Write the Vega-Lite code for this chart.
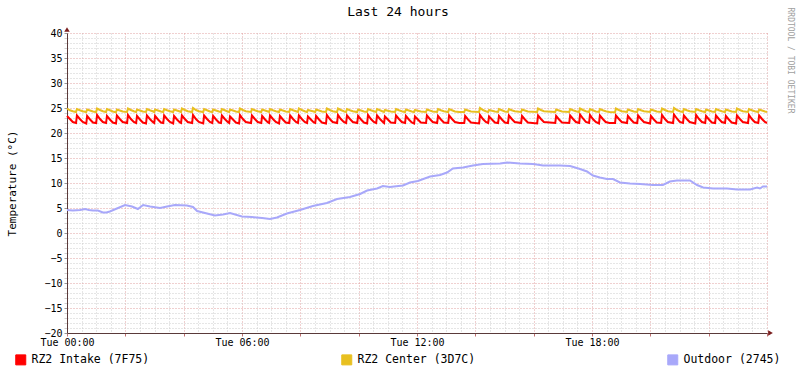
{
"$schema": "https://vega.github.io/schema/vega-lite/v6.json",
"width": 700, "height": 300,
"autosize": {"type": "none"},
"padding": {"left": 67, "top": 33, "right": 30, "bottom": 40},
"background": "white",
"config": {"view": {"stroke": null}, "font": "DejaVu Sans Mono"},
"title": {"text": "Last 24 hours", "font": "DejaVu Sans Mono", "fontSize": 13, "fontWeight": "normal", "color": "black", "anchor": "middle", "dx": -19, "offset": -12},
"encoding": {
  "x": {"field": "t", "type": "quantitative", "scale": {"domain": [0, 24], "nice": false, "zero": false},
    "axis": {"title": "", "orient": "bottom",
      "values": [0,0.5,1,1.5,2,2.5,3,3.5,4,4.5,5,5.5,6,6.5,7,7.5,8,8.5,9,9.5,10,10.5,11,11.5,12,12.5,13,13.5,14,14.5,15,15.5,16,16.5,17,17.5,18,18.5,19,19.5,20,20.5,21,21.5,22,22.5,23,23.5,24],
      "labelExpr": "(datum.value % 6 === 0 && datum.value < 24) ? 'Tue ' + (datum.value < 10 ? '0' : '') + datum.value + ':00' : ''",
      "labelFont": "DejaVu Sans Mono", "labelFontSize": 10, "labelColor": "black", "labelFlush": false, "labelOverlap": false, "labelBound": false, "labelPadding": 1,
      "grid": true, "gridDash": [1, 2],
      "gridColor": {"condition": {"test": "datum.value % 2 === 0", "value": "#e0a0a0"}, "value": "#cccccc"},
      "tickSize": 3,
      "tickColor": {"condition": {"test": "datum.value % 2 === 0", "value": "#c07070"}, "value": "transparent"},
      "domainColor": "#5a3a3a", "domainWidth": 1}},
  "color": {"field": "s", "type": "nominal",
    "scale": {"domain": ["i", "c", "o"], "range": ["#ff0000", "#e8c020", "#a8a8fa"]},
    "legend": {"orient": "none", "legendX": -52, "legendY": 321, "direction": "horizontal", "columns": 3, "gridAlign": "all", "columnPadding": 189,
      "title": null, "symbolType": "square", "symbolSize": 100, "symbolStrokeColor": "black", "symbolStrokeWidth": 1, "symbolOpacity": 1,
      "labelFont": "DejaVu Sans Mono", "labelFontSize": 11.5, "labelColor": "black", "labelOffset": 5,
      "labelExpr": "datum.value === 'i' ? 'RZ2 Intake (7F75)' : datum.value === 'c' ? 'RZ2 Center (3D7C)' : 'Outdoor (2745)'",
      "encode": {"symbols": {"update": {"fill": {"scale": "color", "field": "value"}, "stroke": {"value": "black"}}}}}}
},
"layer": [
  {
    "data": {"values": [
{"t":0,"i":23.4,"c":24.9},{"t":0.1,"i":22.8,"c":24.55},{"t":0.2,"i":22.2,"c":24.35},
{"t":0.31,"i":22.0,"c":24.2},{"t":0.34,"i":23.5,"c":24.8},{"t":0.44,"i":22.8,"c":24.55},{"t":0.54,"i":22.2,"c":24.35},
{"t":0.66,"i":21.9,"c":24.2},{"t":0.69,"i":23.4,"c":24.7},{"t":0.79,"i":22.7,"c":24.5},{"t":0.89,"i":22.1,"c":24.3},
{"t":1.0,"i":22.0,"c":24.2},{"t":1.03,"i":23.6,"c":24.9},{"t":1.13,"i":22.8,"c":24.6},{"t":1.23,"i":22.2,"c":24.35},
{"t":1.34,"i":22.0,"c":24.2},{"t":1.37,"i":23.4,"c":24.8},{"t":1.47,"i":22.7,"c":24.55},{"t":1.57,"i":22.1,"c":24.3},
{"t":1.68,"i":21.9,"c":24.15},{"t":1.71,"i":23.5,"c":24.7},{"t":1.81,"i":22.8,"c":24.5},{"t":1.91,"i":22.2,"c":24.3},
{"t":2.06,"i":22.0,"c":24.2},{"t":2.09,"i":23.6,"c":24.9},{"t":2.19,"i":22.8,"c":24.6},{"t":2.29,"i":22.2,"c":24.35},
{"t":2.37,"i":22.0,"c":24.2},{"t":2.4,"i":23.4,"c":24.7},{"t":2.5,"i":22.7,"c":24.5},{"t":2.6,"i":22.1,"c":24.3},
{"t":2.71,"i":21.9,"c":24.2},{"t":2.74,"i":23.5,"c":24.8},{"t":2.84,"i":22.8,"c":24.55},{"t":2.94,"i":22.2,"c":24.35},
{"t":2.99,"i":22.0,"c":24.2},{"t":3.02,"i":23.4,"c":24.7},{"t":3.12,"i":22.7,"c":24.5},{"t":3.22,"i":22.1,"c":24.3},
{"t":3.3,"i":22.0,"c":24.2},{"t":3.33,"i":23.5,"c":24.8},{"t":3.43,"i":22.8,"c":24.55},{"t":3.53,"i":22.2,"c":24.35},
{"t":3.64,"i":21.9,"c":24.2},{"t":3.67,"i":23.4,"c":24.7},{"t":3.77,"i":22.7,"c":24.5},{"t":3.87,"i":22.1,"c":24.3},
{"t":3.91,"i":22.0,"c":24.2},{"t":3.94,"i":23.5,"c":24.9},{"t":4.04,"i":22.8,"c":24.6},{"t":4.14,"i":22.2,"c":24.35},
{"t":4.29,"i":22.0,"c":24.2},{"t":4.32,"i":23.6,"c":25.0},{"t":4.42,"i":22.8,"c":24.6},{"t":4.52,"i":22.2,"c":24.35},
{"t":4.67,"i":21.9,"c":24.2},{"t":4.7,"i":23.5,"c":24.8},{"t":4.8,"i":22.8,"c":24.55},{"t":4.9,"i":22.2,"c":24.3},
{"t":4.98,"i":22.0,"c":24.2},{"t":5.01,"i":23.4,"c":24.7},{"t":5.11,"i":22.7,"c":24.5},{"t":5.21,"i":22.1,"c":24.3},
{"t":5.28,"i":22.0,"c":24.2},{"t":5.31,"i":23.5,"c":24.8},{"t":5.41,"i":22.8,"c":24.55},{"t":5.51,"i":22.2,"c":24.3},
{"t":5.56,"i":22.0,"c":24.2},{"t":5.59,"i":23.3,"c":24.7},{"t":5.69,"i":22.7,"c":24.5},{"t":5.79,"i":22.1,"c":24.3},
{"t":5.9,"i":21.9,"c":24.2},{"t":5.93,"i":23.6,"c":24.9},{"t":6.03,"i":22.8,"c":24.6},{"t":6.13,"i":22.2,"c":24.35},
{"t":6.31,"i":22.0,"c":24.2},{"t":6.34,"i":23.5,"c":24.8},{"t":6.44,"i":22.8,"c":24.55},{"t":6.54,"i":22.2,"c":24.35},
{"t":6.66,"i":22.0,"c":24.2},{"t":6.69,"i":23.4,"c":24.7},{"t":6.79,"i":22.7,"c":24.5},{"t":6.89,"i":22.1,"c":24.3},
{"t":6.93,"i":22.0,"c":24.2},{"t":6.96,"i":23.5,"c":24.8},{"t":7.06,"i":22.8,"c":24.55},{"t":7.16,"i":22.2,"c":24.35},
{"t":7.27,"i":21.9,"c":24.2},{"t":7.3,"i":23.4,"c":24.7},{"t":7.4,"i":22.7,"c":24.5},{"t":7.5,"i":22.1,"c":24.3},
{"t":7.62,"i":22.0,"c":24.2},{"t":7.65,"i":23.5,"c":24.8},{"t":7.75,"i":22.8,"c":24.55},{"t":7.85,"i":22.2,"c":24.35},
{"t":7.92,"i":22.0,"c":24.2},{"t":7.95,"i":23.5,"c":24.9},{"t":8.05,"i":22.8,"c":24.6},{"t":8.15,"i":22.2,"c":24.35},
{"t":8.23,"i":22.0,"c":24.2},{"t":8.26,"i":23.3,"c":24.6},{"t":8.36,"i":22.7,"c":24.45},{"t":8.46,"i":22.1,"c":24.3},
{"t":8.51,"i":22.0,"c":24.2},{"t":8.54,"i":23.4,"c":24.7},{"t":8.64,"i":22.7,"c":24.5},{"t":8.74,"i":22.1,"c":24.3},
{"t":8.88,"i":21.9,"c":24.2},{"t":8.91,"i":23.6,"c":24.9},{"t":9.01,"i":22.8,"c":24.6},{"t":9.11,"i":22.2,"c":24.35},
{"t":9.26,"i":22.0,"c":24.2},{"t":9.29,"i":23.6,"c":24.9},{"t":9.39,"i":22.8,"c":24.6},{"t":9.49,"i":22.2,"c":24.35},
{"t":9.57,"i":22.0,"c":24.2},{"t":9.6,"i":23.5,"c":24.8},{"t":9.7,"i":22.8,"c":24.55},{"t":9.8,"i":22.2,"c":24.35},
{"t":9.95,"i":22.0,"c":24.2},{"t":9.98,"i":23.4,"c":24.7},{"t":10.08,"i":22.7,"c":24.5},{"t":10.18,"i":22.1,"c":24.3},
{"t":10.29,"i":21.9,"c":24.2},{"t":10.32,"i":23.6,"c":24.8},{"t":10.42,"i":22.8,"c":24.55},{"t":10.52,"i":22.2,"c":24.35},
{"t":10.6,"i":22.0,"c":24.2},{"t":10.63,"i":23.5,"c":24.8},{"t":10.73,"i":22.8,"c":24.55},{"t":10.83,"i":22.2,"c":24.3},
{"t":10.87,"i":22.0,"c":24.2},{"t":10.9,"i":23.3,"c":24.6},{"t":11.0,"i":22.7,"c":24.45},{"t":11.1,"i":22.1,"c":24.3},
{"t":11.25,"i":22.0,"c":24.2},{"t":11.28,"i":23.5,"c":24.8},{"t":11.38,"i":22.8,"c":24.55},{"t":11.48,"i":22.2,"c":24.35},
{"t":11.59,"i":22.0,"c":24.2},{"t":11.62,"i":23.4,"c":24.7},{"t":11.72,"i":22.7,"c":24.5},{"t":11.82,"i":22.1,"c":24.3},
{"t":11.9,"i":21.9,"c":24.2},{"t":11.93,"i":23.3,"c":24.6},{"t":12.03,"i":22.7,"c":24.45},{"t":12.13,"i":22.1,"c":24.3},
{"t":12.31,"i":22.0,"c":24.2},{"t":12.34,"i":23.5,"c":24.7},{"t":12.44,"i":22.8,"c":24.5},{"t":12.54,"i":22.2,"c":24.3},
{"t":12.69,"i":22.0,"c":24.2},{"t":12.72,"i":23.4,"c":24.8},{"t":12.82,"i":22.7,"c":24.55},{"t":12.92,"i":22.1,"c":24.35},
{"t":13.07,"i":22.0,"c":24.2},{"t":13.1,"i":23.5,"c":24.8},{"t":13.2,"i":22.8,"c":24.55},{"t":13.3,"i":22.2,"c":24.3},{"t":13.45,"i":22.0,"c":24.2},
{"t":13.62,"i":22.0,"c":24.2},{"t":13.65,"i":23.4,"c":24.7},{"t":13.75,"i":22.7,"c":24.5},{"t":13.85,"i":22.1,"c":24.3},
{"t":14.13,"i":21.9,"c":24.2},{"t":14.16,"i":23.6,"c":25.0},{"t":14.26,"i":22.8,"c":24.6},{"t":14.36,"i":22.2,"c":24.35},
{"t":14.44,"i":22.0,"c":24.2},{"t":14.47,"i":23.3,"c":24.6},{"t":14.57,"i":22.7,"c":24.45},{"t":14.67,"i":22.1,"c":24.3},
{"t":14.78,"i":22.0,"c":24.2},{"t":14.81,"i":23.4,"c":24.8},{"t":14.91,"i":22.7,"c":24.55},{"t":15.01,"i":22.1,"c":24.3},
{"t":15.12,"i":22.0,"c":24.2},{"t":15.15,"i":23.5,"c":24.8},{"t":15.25,"i":22.8,"c":24.55},{"t":15.35,"i":22.2,"c":24.35},
{"t":15.57,"i":22.0,"c":24.2},{"t":15.6,"i":23.4,"c":24.7},{"t":15.7,"i":22.7,"c":24.5},{"t":15.8,"i":22.1,"c":24.3},
{"t":16.12,"i":21.9,"c":24.2},{"t":16.15,"i":23.5,"c":24.9},{"t":16.25,"i":22.8,"c":24.6},{"t":16.35,"i":22.2,"c":24.35},
{"t":16.74,"i":22.0,"c":24.2},{"t":16.77,"i":23.4,"c":24.7},{"t":16.87,"i":22.7,"c":24.5},{"t":16.97,"i":22.1,"c":24.3},
{"t":17.22,"i":22.0,"c":24.2},{"t":17.25,"i":23.5,"c":24.8},{"t":17.35,"i":22.8,"c":24.55},{"t":17.45,"i":22.2,"c":24.35},
{"t":17.56,"i":22.0,"c":24.2},{"t":17.59,"i":23.7,"c":24.9},{"t":17.69,"i":22.9,"c":24.6},{"t":17.79,"i":22.2,"c":24.35},
{"t":17.9,"i":22.0,"c":24.2},{"t":17.93,"i":23.6,"c":24.8},{"t":18.03,"i":22.8,"c":24.55},{"t":18.13,"i":22.2,"c":24.3},
{"t":18.24,"i":21.9,"c":24.2},{"t":18.27,"i":23.5,"c":24.8},{"t":18.37,"i":22.8,"c":24.55},{"t":18.47,"i":22.2,"c":24.35},{"t":18.6,"i":22.0,"c":24.2},
{"t":18.79,"i":22.0,"c":24.15},{"t":18.82,"i":23.5,"c":24.9},{"t":18.92,"i":22.8,"c":24.6},{"t":19.02,"i":22.2,"c":24.35},
{"t":19.2,"i":22.0,"c":24.2},{"t":19.23,"i":23.4,"c":24.7},{"t":19.33,"i":22.7,"c":24.5},{"t":19.43,"i":22.1,"c":24.3},
{"t":19.55,"i":22.0,"c":24.2},{"t":19.58,"i":23.5,"c":24.8},{"t":19.68,"i":22.8,"c":24.55},{"t":19.78,"i":22.2,"c":24.35},
{"t":19.99,"i":21.9,"c":24.2},{"t":20.02,"i":23.4,"c":24.7},{"t":20.12,"i":22.7,"c":24.5},{"t":20.22,"i":22.1,"c":24.3},
{"t":20.37,"i":22.0,"c":24.2},{"t":20.4,"i":23.6,"c":24.9},{"t":20.5,"i":22.8,"c":24.6},{"t":20.6,"i":22.2,"c":24.35},
{"t":20.78,"i":22.0,"c":24.2},{"t":20.81,"i":23.7,"c":25.0},{"t":20.91,"i":22.9,"c":24.6},{"t":21.01,"i":22.2,"c":24.35},
{"t":21.12,"i":22.0,"c":24.2},{"t":21.15,"i":23.5,"c":24.8},{"t":21.25,"i":22.8,"c":24.55},{"t":21.35,"i":22.2,"c":24.35},
{"t":21.54,"i":21.9,"c":24.2},{"t":21.57,"i":23.6,"c":24.8},{"t":21.67,"i":22.8,"c":24.55},{"t":21.77,"i":22.2,"c":24.35},
{"t":21.88,"i":22.0,"c":24.2},{"t":21.91,"i":23.4,"c":24.7},{"t":22.01,"i":22.7,"c":24.5},{"t":22.11,"i":22.1,"c":24.3},
{"t":22.22,"i":22.0,"c":24.2},{"t":22.25,"i":23.5,"c":24.8},{"t":22.35,"i":22.8,"c":24.55},{"t":22.45,"i":22.2,"c":24.35},
{"t":22.56,"i":22.0,"c":24.2},{"t":22.59,"i":23.4,"c":24.7},{"t":22.69,"i":22.7,"c":24.5},{"t":22.79,"i":22.1,"c":24.3},
{"t":22.94,"i":21.9,"c":24.2},{"t":22.97,"i":23.5,"c":24.9},{"t":23.07,"i":22.8,"c":24.6},{"t":23.17,"i":22.2,"c":24.35},
{"t":23.35,"i":22.0,"c":24.2},{"t":23.38,"i":23.6,"c":24.8},{"t":23.48,"i":22.8,"c":24.55},{"t":23.58,"i":22.2,"c":24.35},
{"t":23.7,"i":22.0,"c":24.2},{"t":23.73,"i":23.5,"c":24.7},{"t":23.83,"i":22.8,"c":24.5},{"t":23.93,"i":22.2,"c":24.3},
{"t":24.0,"i":22.0,"c":24.2}
    ]},
    "transform": [{"fold": ["i", "c"], "as": ["s", "v"]}],
    "mark": {"type": "line", "strokeWidth": 2, "interpolate": "linear"},
    "encoding": {
      "y": {"field": "v", "type": "quantitative", "scale": {"domain": [-20, 40], "nice": false, "zero": false},
        "axis": {
          "values": [-20,-19,-18,-17,-16,-15,-14,-13,-12,-11,-10,-9,-8,-7,-6,-5,-4,-3,-2,-1,0,1,2,3,4,5,6,7,8,9,10,11,12,13,14,15,16,17,18,19,20,21,22,23,24,25,26,27,28,29,30,31,32,33,34,35,36,37,38,39,40],
          "labelExpr": "datum.value % 5 === 0 ? datum.label : ''",
          "labelFont": "DejaVu Sans Mono", "labelFontSize": 10, "labelColor": "black", "labelFlush": false, "labelOverlap": false, "labelBound": false, "labelPadding": 2,
          "grid": true, "gridDash": [1, 2],
          "gridColor": {"condition": {"test": "datum.value % 5 === 0", "value": "#e0a0a0"}, "value": "#cccccc"},
          "tickSize": 3,
          "tickColor": {"condition": {"test": "datum.value % 5 === 0", "value": "#999999"}, "value": "#d0d0d0"},
          "domainColor": "#5a3a3a", "domainWidth": 1,
          "title": "Temperature (°C)", "titleFont": "DejaVu Sans Mono", "titleFontSize": 11, "titleFontWeight": "normal", "titleColor": "black", "titlePadding": 26}}
    }
  },
  {
    "data": {"values": [
{"t":0,"o":4.6},{"t":0.2,"o":4.5},{"t":0.45,"o":4.6},{"t":0.62,"o":4.8},{"t":0.75,"o":4.6},{"t":0.89,"o":4.5},{"t":1.06,"o":4.5},{"t":1.23,"o":4.1},{"t":1.35,"o":4.1},{"t":1.47,"o":4.3},{"t":1.71,"o":4.9},{"t":1.99,"o":5.6},{"t":2.23,"o":5.3},{"t":2.43,"o":4.8},{"t":2.61,"o":5.6},{"t":2.85,"o":5.3},{"t":3.19,"o":5.0},{"t":3.43,"o":5.3},{"t":3.7,"o":5.6},{"t":4.11,"o":5.5},{"t":4.32,"o":5.2},{"t":4.46,"o":4.4},{"t":4.8,"o":3.9},{"t":5.07,"o":3.5},{"t":5.35,"o":3.7},{"t":5.59,"o":4.0},{"t":6.0,"o":3.3},{"t":6.34,"o":3.2},{"t":6.69,"o":3.0},{"t":6.96,"o":2.8},{"t":7.2,"o":3.1},{"t":7.54,"o":3.9},{"t":7.99,"o":4.6},{"t":8.43,"o":5.4},{"t":8.91,"o":6.0},{"t":9.26,"o":6.8},{"t":9.7,"o":7.2},{"t":10.05,"o":7.8},{"t":10.29,"o":8.5},{"t":10.63,"o":8.9},{"t":10.83,"o":9.4},{"t":11.07,"o":9.2},{"t":11.52,"o":9.5},{"t":11.76,"o":10.1},{"t":12.03,"o":10.4},{"t":12.45,"o":11.3},{"t":12.79,"o":11.6},{"t":13.03,"o":12.1},{"t":13.23,"o":12.9},{"t":13.58,"o":13.1},{"t":13.92,"o":13.5},{"t":14.26,"o":13.8},{"t":14.85,"o":13.9},{"t":15.09,"o":14.1},{"t":15.53,"o":13.9},{"t":15.98,"o":13.8},{"t":16.32,"o":13.5},{"t":16.9,"o":13.5},{"t":17.25,"o":13.4},{"t":17.59,"o":12.8},{"t":17.83,"o":12.3},{"t":18.03,"o":11.5},{"t":18.27,"o":11.1},{"t":18.51,"o":10.8},{"t":18.72,"o":10.8},{"t":18.96,"o":10.1},{"t":19.3,"o":9.9},{"t":19.65,"o":9.8},{"t":20.09,"o":9.6},{"t":20.43,"o":9.6},{"t":20.67,"o":10.3},{"t":20.91,"o":10.5},{"t":21.36,"o":10.5},{"t":21.6,"o":9.6},{"t":21.81,"o":9.1},{"t":22.15,"o":8.9},{"t":22.63,"o":8.9},{"t":22.97,"o":8.7},{"t":23.42,"o":8.7},{"t":23.66,"o":9.1},{"t":23.76,"o":8.9},{"t":23.86,"o":9.3},{"t":24.0,"o":9.3}
    ]},
    "transform": [{"fold": ["o"], "as": ["s", "v"]}],
    "mark": {"type": "line", "strokeWidth": 2, "interpolate": "linear"},
    "encoding": {
      "y": {"field": "v", "type": "quantitative",
        "axis": {"orient": "right", "labels": false, "ticks": false, "domain": false, "grid": false,
          "title": "RRDTOOL / TOBI OETIKER", "titleColor": "#a0a0a0", "titleFontSize": 8, "titleFont": "DejaVu Sans Mono", "titleFontWeight": "normal",
          "titleAngle": 90, "titleAlign": "left", "titleBaseline": "middle", "titleX": 22, "titleY": -26}}
    }
  },
  {
    "data": {"values": [{"t": 24.12}]},
    "mark": {"type": "point", "shape": "triangle-right", "filled": true, "size": 30, "opacity": 1},
    "encoding": {
      "y": {"datum": -20, "type": "quantitative", "axis": null},
      "color": {"value": "#7a1e1e"}
    }
  },
  {
    "data": {"values": [{"t": 0}]},
    "mark": {"type": "point", "shape": "triangle-up", "filled": true, "size": 30, "opacity": 1},
    "encoding": {
      "y": {"datum": 40.7, "type": "quantitative", "axis": null},
      "color": {"value": "#7a1e1e"}
    }
  }
],
"resolve": {"axis": {"y": "independent"}}
}
